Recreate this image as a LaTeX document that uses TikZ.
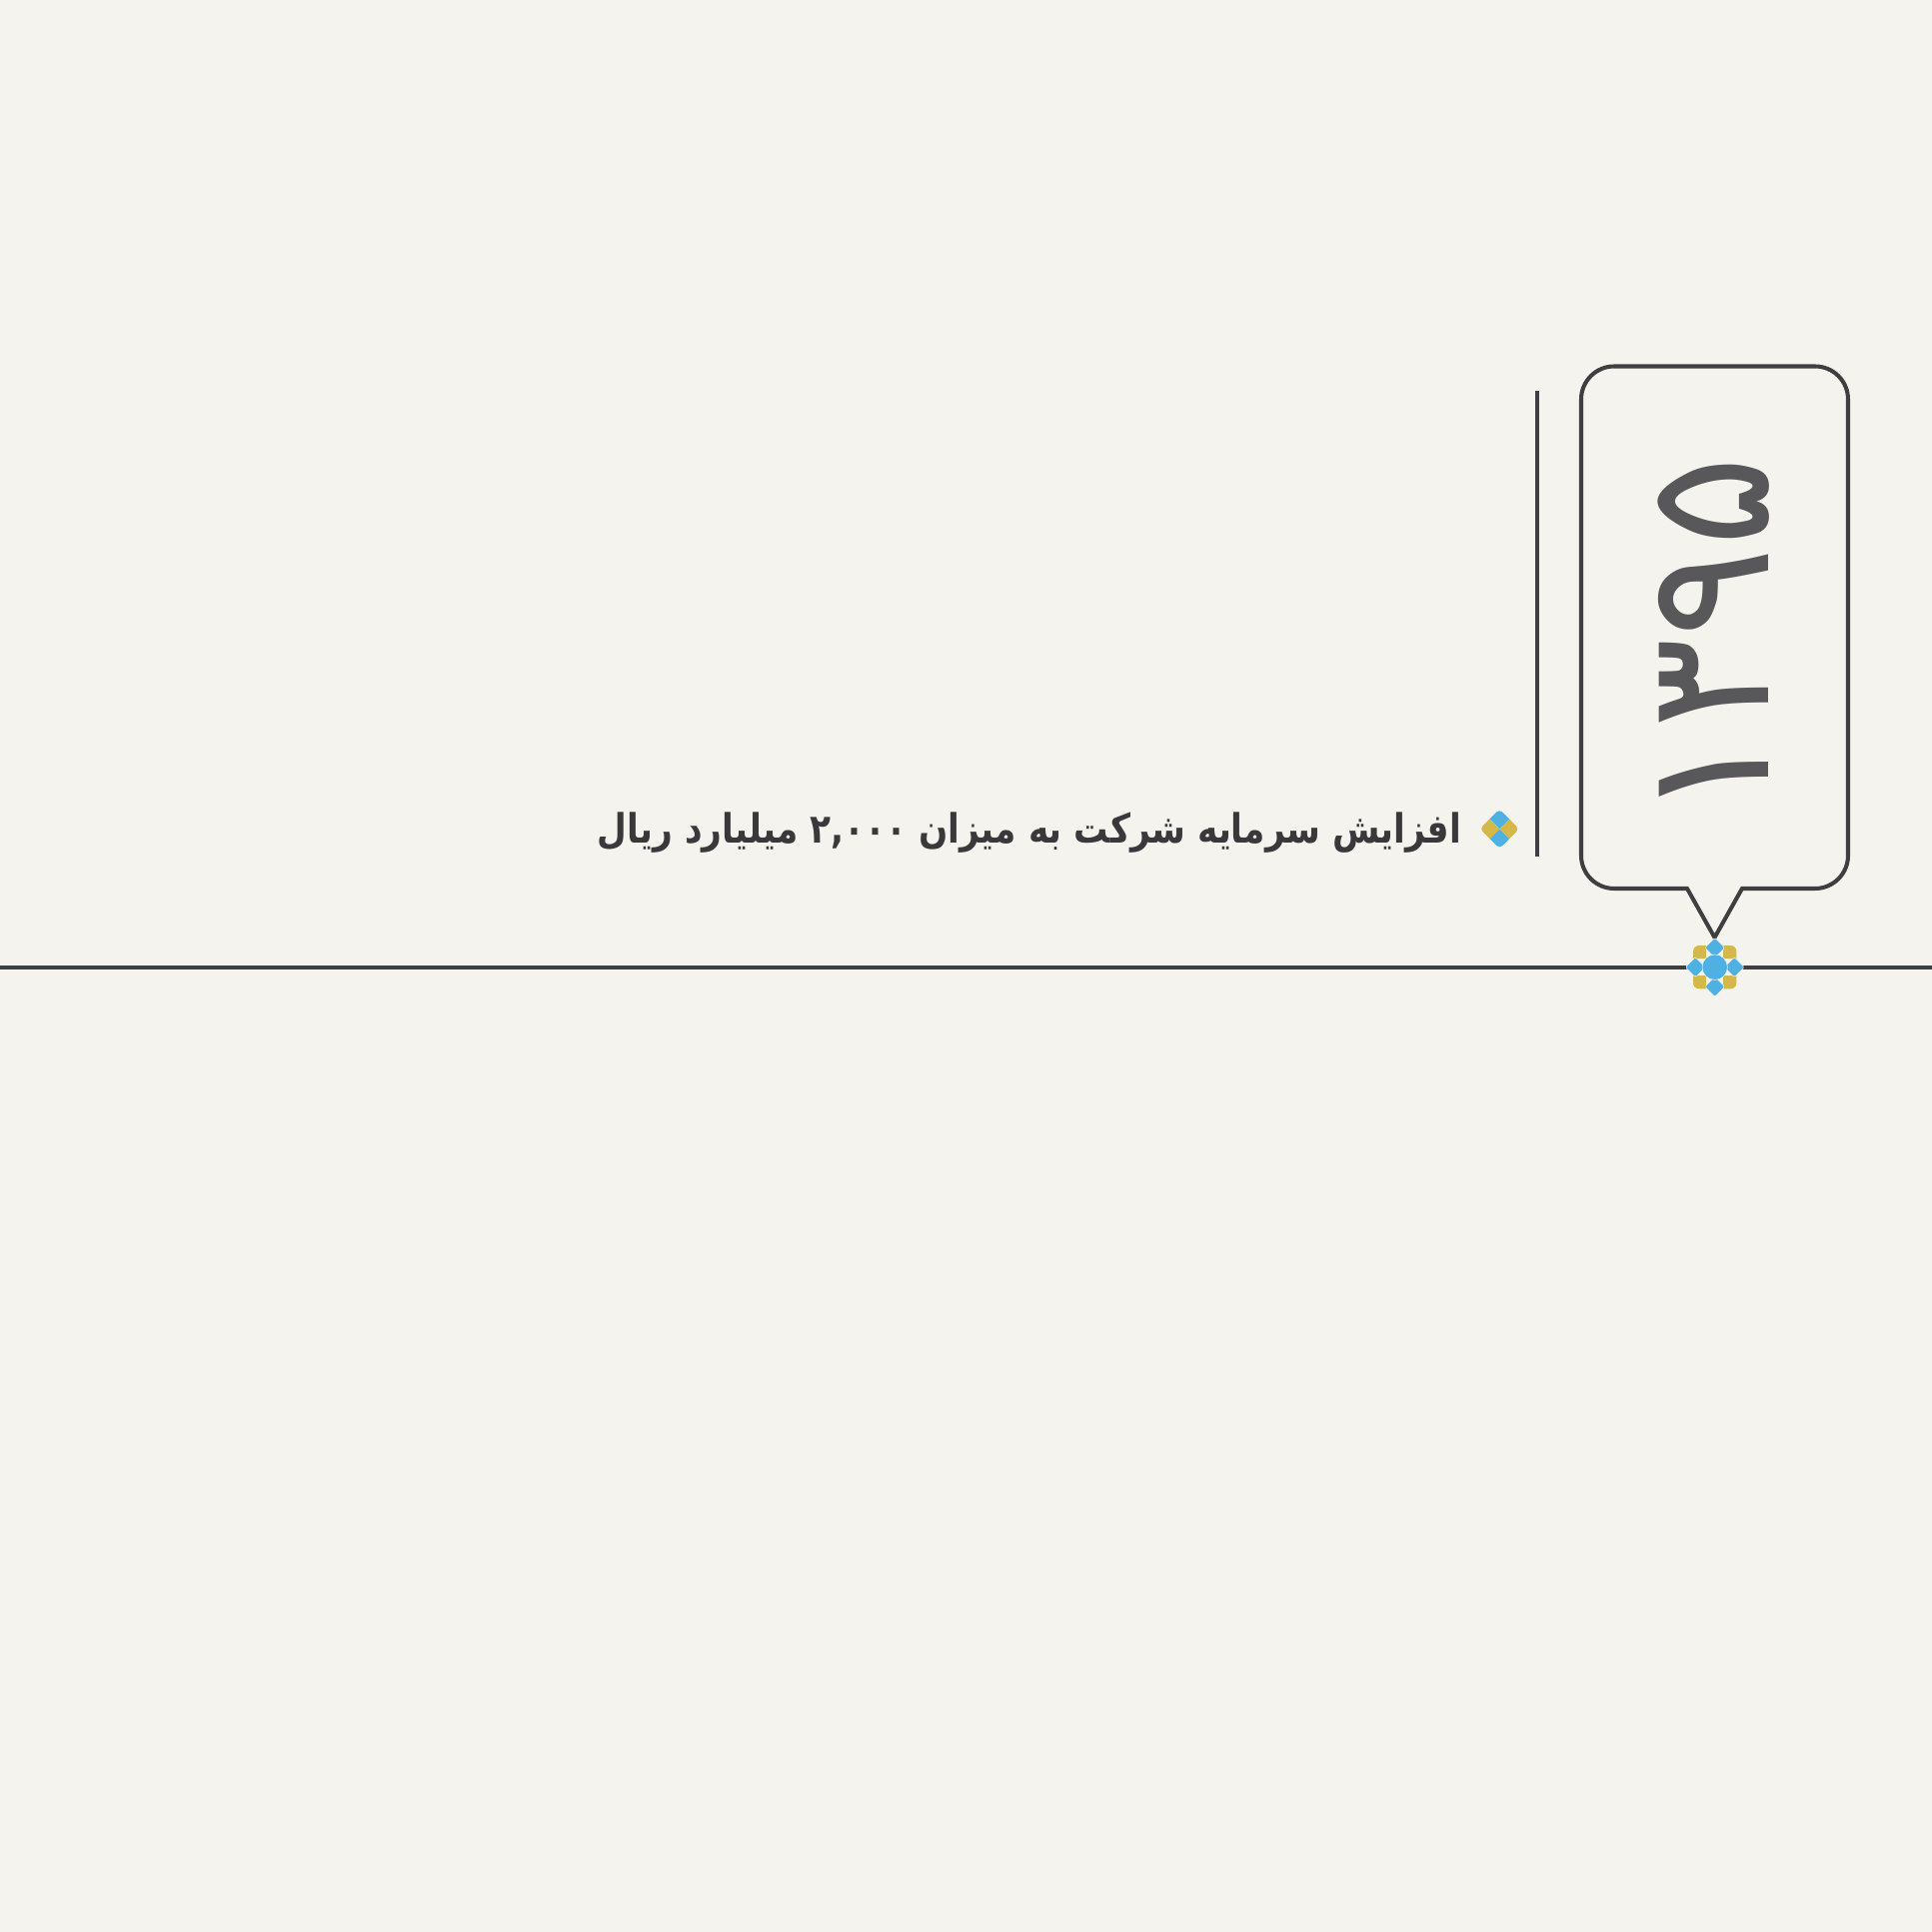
\documentclass[tikz,border=0pt]{standalone}
\usepackage{fontspec}
\usepackage{tikz}
\TeXXeTstate=1
\newfontfamily\arabicfont[Script=Arabic]{DejaVu Sans}
\definecolor{paper}{HTML}{F4F3EE}
\definecolor{inkline}{HTML}{3F3E40}
\definecolor{inktext}{HTML}{3A383A}
\definecolor{inkyear}{HTML}{58585A}
\definecolor{markblue}{HTML}{4FB0E3}
\definecolor{markgold}{HTML}{D4B84A}
\tikzset{
  mainline/.style = {color = inkline, line width = 1.2pt},
  yearbox/.style = {color = inkline, line width = 1.15pt, line join = miter},
  halo/.style = {draw = paper, line width = 0.15pt, fill = markblue}
}

\begin{document}
\begin{tikzpicture}
\useasboundingbox[fill = paper] (0, 0) rectangle (19.33, 19.33);
\draw [mainline] (0, 9.653) to (19.33, 9.653);
\draw [color = inkline, line width = 0.95pt] (15.38, 15.42) to (15.38, 10.76);
% year callout
\draw [yearbox] (16.88, 10.44) -- (16.15, 10.44) arc [start angle = 270, end angle = 180, radius = 0.33]
  -- (15.82, 15.335) arc [start angle = 180, end angle = 90, radius = 0.33]
  -- (18.16, 15.665) arc [start angle = 90, end angle = 0, radius = 0.33]
  -- (18.49, 10.77) arc [start angle = 0, end angle = -90, radius = 0.33]
  -- (17.43, 10.44) -- (17.155, 9.95) -- cycle;
\node (yearlabel) at (17.15, 12.946) [rotate = 90, xscale = 0.985, color = inkyear, inner sep = 0pt]
  {\fontsize{49}{49}\selectfont\arabicfont ۱۳۹۵};
\node (notetext) at (10.30, 11.0) [xscale = 0.85, color = inktext, inner sep = 0pt]
  {\fontsize{11.5}{13}\selectfont\arabicfont\bfseries\beginR افزایش سرمایه شرکت به میزان \beginL ۲,۰۰۰\endL{} میلیارد ریال\endR};
% small bullet
\begin{scope}[shift = {(15.003, 11.037)}]
\clip [rounded corners = 0.04cm] (-0.197, 0) -- (0, 0.197) -- (0.197, 0) -- (0, -0.197) -- cycle;
\fill [markblue] (0, 0) -- (0.1, 0.1) -- (0, 0.2) -- (-0.1, 0.1) -- cycle;
\fill [markblue] (0, 0) -- (0.1, -0.1) -- (0, -0.2) -- (-0.1, -0.1) -- cycle;
\fill [markgold] (0, 0) -- (0.1, 0.1) -- (0.2, 0) -- (0.1, -0.1) -- cycle;
\fill [markgold] (0, 0) -- (-0.1, 0.1) -- (-0.2, 0) -- (-0.1, -0.1) -- cycle;
\end{scope}
% marker on the line
\begin{scope}[shift = {(17.157, 9.653)}]
\foreach \sx/\sy in {1/1, 1/-1, -1/1, -1/-1} {
  \fill [markgold, xscale = \sx, yscale = \sy] (0.085, 0.085) -- (0.085, 0.217) {[rounded corners = 0.06cm] -- (0.217, 0.217)} -- (0.217, 0.085) -- cycle;
}
\foreach \a in {0, 90, 180, 270} {
  \draw [halo, rotate = \a, rounded corners = 0.015cm] (0.095, 0) -- (0.195, 0.1) -- (0.295, 0) -- (0.195, -0.1) -- cycle;
}
\draw [halo] (0, 0) circle (0.127);
\end{scope}
\end{tikzpicture}
\end{document}
